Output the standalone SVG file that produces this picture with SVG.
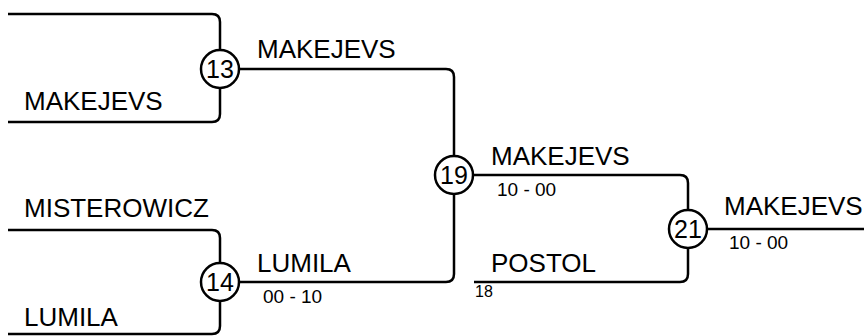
<svg xmlns="http://www.w3.org/2000/svg" width="864" height="336" viewBox="0 0 864 336">
<style>
.ln{fill:none;stroke:#000;stroke-width:2.5;stroke-linejoin:round}
.c{fill:#fff;stroke:#000;stroke-width:2.5}
text{font-family:"Liberation Sans",Arial,sans-serif;fill:#000}
.n{font-size:26px}
.num{font-size:25px;text-anchor:middle}
.s{font-size:19px}
.xs{font-size:16px}
</style>
<rect width="864" height="336" fill="#fff"/>
<g id="connectors">
<path class="ln" d="M8,14 H212 Q220,14 220,22 V114 Q220,122 212,122 H8"/>
<path class="ln" d="M8,230 H212 Q220,230 220,238 V326 Q220,334 212,334 H8"/>
<path class="ln" d="M220,69 H446 Q454,69 454,77 V274 Q454,282 446,282 H220"/>
<path class="ln" d="M454,175 H680 Q688,175 688,183 V274 Q688,282 680,282 H474"/>
<path class="ln" d="M688,229 H864"/>
</g>
<g id="m13">
<circle class="c" cx="220" cy="69" r="19"/>
<text class="num" x="220" y="78">13</text>
</g>
<g id="m14">
<circle class="c" cx="220" cy="282" r="19"/>
<text class="num" x="220" y="291">14</text>
</g>
<g id="m19">
<circle class="c" cx="454" cy="175" r="19"/>
<text class="num" x="454" y="184">19</text>
</g>
<g id="m21">
<circle class="c" cx="688" cy="229" r="19"/>
<text class="num" x="688" y="238">21</text>
</g>
<g id="labels">
<text class="n" x="24" y="110">MAKEJEVS</text>
<text class="n" x="24" y="217">MISTEROWICZ</text>
<text class="n" x="24" y="326">LUMILA</text>
<text class="n" x="257" y="58">MAKEJEVS</text>
<text class="n" x="257" y="272">LUMILA</text>
<text class="s" x="263" y="303">00 - 10</text>
<text class="n" x="491" y="165">MAKEJEVS</text>
<text class="s" x="497" y="196">10 - 00</text>
<text class="n" x="491" y="272">POSTOL</text>
<text class="xs" x="475" y="297">18</text>
<text class="n" x="724" y="215">MAKEJEVS</text>
<text class="s" x="729" y="249">10 - 00</text>
</g>
</svg>
